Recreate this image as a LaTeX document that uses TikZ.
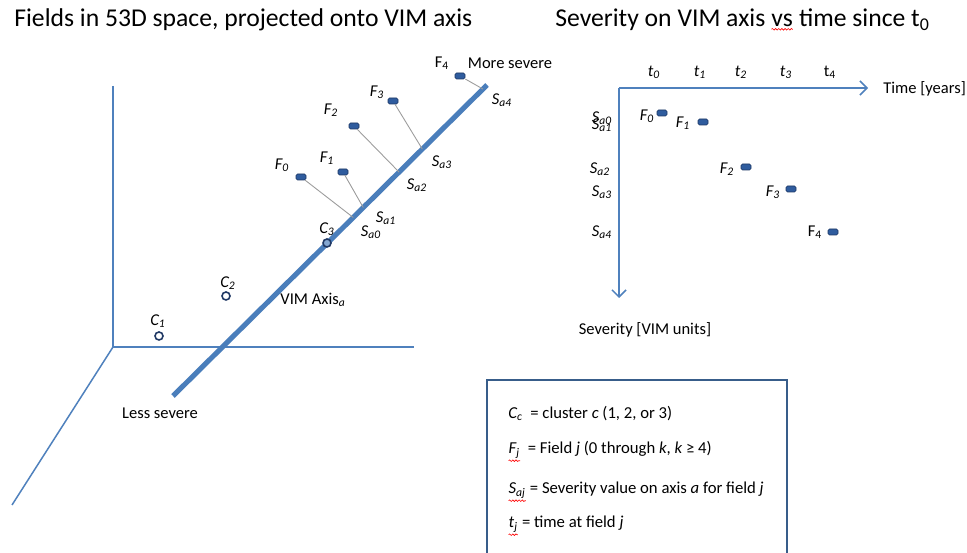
\documentclass[tikz,border=0pt]{standalone}
\usepackage{fontspec}
\setmainfont{Carlito}
\usetikzlibrary{arrows.meta,calc,decorations.pathmorphing}

\definecolor{axisblue}{HTML}{4F81BD}
\definecolor{vimblue}{HTML}{4A7EBB}
\definecolor{markdark}{HTML}{1F3864}
\definecolor{markfill}{HTML}{2F5C9E}
\definecolor{projgrey}{HTML}{9C9C9C}
\definecolor{keyframe}{HTML}{385D8A}

% wavy red underline, as a spell checker marks a word
\newcommand\redwave[1]{\tikz[baseline=(w.base)]{\node[inner sep=0pt, outer sep=0pt, anchor=base] (w) {#1};
  \draw[red, line width=0.35pt, decorate, decoration={snake, amplitude=0.45pt, segment length=1.8pt}]
    ([yshift=-1.2pt]w.south west) -- ([yshift=-1.2pt]w.south east);}}

\tikzset{
  lbl/.style={font=\fontsize{9.4}{11}\selectfont, inner sep=0pt},
  keytext/.style={font=\fontsize{9.5}{12}\selectfont, inner sep=0pt, anchor=base west},
  heading/.style={font=\fontsize{14.6}{17}\selectfont, inner sep=0pt, anchor=base west},
  field/.style={rectangle, rounded corners=0.8pt, minimum width=0.2cm, minimum height=0.12cm,
    fill=markfill, draw=markdark, line width=0.3pt, inner sep=0pt},
  cluster/.style={circle, draw=markdark, line width=0.9pt, fill=white, minimum size=0.16cm, inner sep=0pt},
  thinaxis/.style={draw=axisblue, line width=0.85pt},
  vimaxis/.style={draw=vimblue, line width=2.9pt},
  proj/.style={draw=projgrey, line width=0.5pt},
  barb/.style={-{Straight Barb[length=4pt,width=8pt]}},
}

\begin{document}
\begin{tikzpicture}[x=0.02cm, y=-0.02cm]
\useasboundingbox (0,0) rectangle (967,553);
\fill[white] (0,0) rectangle (967,553);

% headings
\node[heading] (h1) at (14,27) {Fields in 53D space, projected onto VIM axis};
\node[heading] (h2) at (555,27) {Severity on VIM axis \redwave{vs} time since t\textsubscript{0}};

% ---------- left: the 3D frame ----------
\coordinate (o3) at (113,347);
\coordinate (ztop) at (113,86);
\coordinate (xr) at (414,347);
\coordinate (dl) at (12,505);
\draw[thinaxis] (ztop) -- (o3) -- (xr);
\draw[thinaxis] (o3) -- (dl);

% VIM axis
\coordinate (lo) at (173,396);
\coordinate (hi) at (487,85);
\draw[vimaxis] (lo) -- (hi);

% feet of the projections on the VIM axis
\coordinate (p0) at ($(lo)!0.574!(hi)$);
\coordinate (p1) at ($(lo)!0.606!(hi)$);
\coordinate (p2) at ($(lo)!0.720!(hi)$);
\coordinate (p3) at ($(lo)!0.794!(hi)$);
\coordinate (p4) at ($(lo)!0.987!(hi)$);

% fields
\node[field] (F0) at (301,177) {};
\node[field] (F1) at (343,172) {};
\node[field] (F2) at (354,126) {};
\node[field] (F3) at (393,101) {};
\node[field] (F4) at (460,76) {};

\draw[proj] (F0) -- (p0);
\draw[proj] (F1) -- (p1);
\draw[proj] (F2) -- (p2);
\draw[proj] (F3) -- (p3);
\draw[proj] (F4) -- (p4);

\node[lbl] (lF0) at (282,165) {\textit{F\textsubscript{0}}};
\node[lbl] (lF1) at (327,158) {\textit{F\textsubscript{1}}};
\node[lbl] (lF2) at (331,110) {\textit{F\textsubscript{2}}};
\node[lbl] (lF3) at (377,92) {\textit{F\textsubscript{3}}};
\node[lbl] (lF4) at (442,63) {F\textsubscript{4}};

\node[lbl] (lS4) at (502,100) {\textit{S\textsubscript{a4}}};
\node[lbl] (lS3) at (442,162) {\textit{S\textsubscript{a3}}};
\node[lbl] (lS2) at (417,185) {\textit{S\textsubscript{a2}}};
\node[lbl] (lS1) at (386,218) {\textit{S\textsubscript{a1}}};
\node[lbl] (lS0) at (371,232) {\textit{S\textsubscript{a0}}};

\node[lbl] (more) at (510,63) {More severe};
\node[lbl] (less) at (160,413) {Less severe};
\node[lbl] (vim) at (313,300) {VIM Axis\textsubscript{\textit{a}}};

% clusters
\node[cluster, fill=axisblue!70] (C3) at (327,243) {};
\node[cluster] (C2) at (226,296) {};
\node[cluster] (C1) at (159,336) {};
\node[lbl] (lC3) at (327,229) {\textit{C\textsubscript{3}}};
\node[lbl] (lC2) at (228,283) {\textit{C\textsubscript{2}}};
\node[lbl] (lC1) at (158,321) {\textit{C\textsubscript{1}}};

% ---------- right: severity against time ----------
\coordinate (o2) at (619,88);
\coordinate (tx) at (868,88);
\coordinate (sy) at (619,298);
\draw[thinaxis, barb] (o2) -- (tx);
\draw[thinaxis, barb] (o2) -- (sy);

\node[lbl, anchor=west] (tyears) at (883,89) {Time [years]};
\node[lbl] (sev) at (645,330) {Severity [VIM units]};

\node[lbl] (t0) at (654,72) {\textit{t\textsubscript{0}}};
\node[lbl] (t1) at (700,72) {\textit{t\textsubscript{1}}};
\node[lbl] (t2) at (741,72) {\textit{t\textsubscript{2}}};
\node[lbl] (t3) at (786,72) {\textit{t\textsubscript{3}}};
\node[lbl] (t4) at (830,72) {t\textsubscript{4}};

\node[lbl] (rS0) at (602,118) {\textit{S\textsubscript{a0}}};
\node[lbl] (rS1) at (602,125) {\textit{S\textsubscript{a1}}};
\node[lbl] (rS2) at (600,169) {\textit{S\textsubscript{a2}}};
\node[lbl] (rS3) at (602,192) {\textit{S\textsubscript{a3}}};
\node[lbl] (rS4) at (602,232) {\textit{S\textsubscript{a4}}};

\node[field] (G0) at (662,113) {};
\node[field] (G1) at (703,122) {};
\node[field] (G2) at (746,167) {};
\node[field] (G3) at (791,189) {};
\node[field] (G4) at (833,232) {};

\node[lbl] (gF0) at (647,116) {\textit{F\textsubscript{0}}};
\node[lbl] (gF1) at (683,123) {\textit{F\textsubscript{1}}};
\node[lbl] (gF2) at (727,169) {\textit{F\textsubscript{2}}};
\node[lbl] (gF3) at (773,192) {\textit{F\textsubscript{3}}};
\node[lbl] (gF4) at (815,232) {F\textsubscript{4}};

% ---------- key ----------
\draw[draw=keyframe, line width=1.1pt] (487,553) -- (487,380) -- (787,380) -- (787,553);
\node[keytext] (k1) at (508,419) {\textit{C\textsubscript{c}}\ \ = cluster \textit{c} (1, 2, or 3)};
\node[keytext] (k2) at (508,454) {\redwave{\textit{F\textsubscript{j}}}\ \ = Field \textit{j} (0 through \textit{k}, \textit{k} ≥ 4)};
\node[keytext] (k3) at (508,494) {\redwave{\textit{S\textsubscript{aj}}} = Severity value on axis \textit{a} for field \textit{j}};
\node[keytext] (k4) at (508,528) {\redwave{\textit{t\textsubscript{j}}} = time at field \textit{j}};
\end{tikzpicture}
\end{document}
